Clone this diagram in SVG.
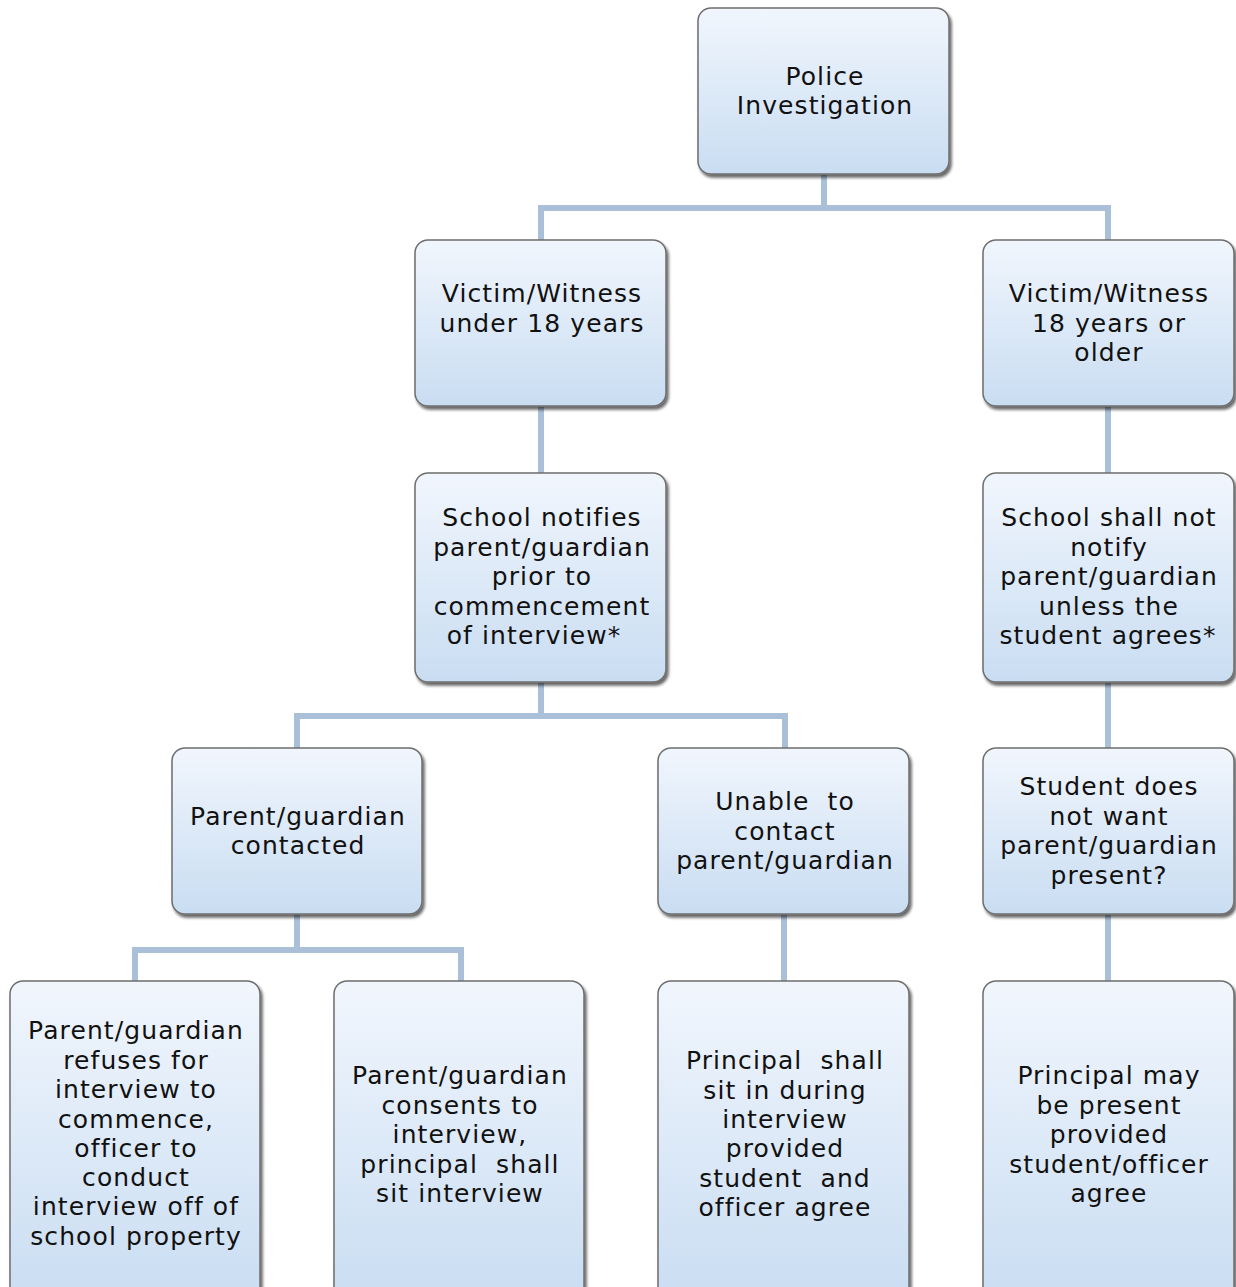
<svg xmlns="http://www.w3.org/2000/svg" width="1236" height="1287" viewBox="0 0 1236 1287">
<defs>
<linearGradient id="g" x1="0" y1="0" x2="0" y2="1">
<stop offset="0" stop-color="#f1f6fd"/>
<stop offset="1" stop-color="#c9ddf2"/>
</linearGradient>
<filter id="sh" x="-10%" y="-10%" width="130%" height="130%">
<feGaussianBlur in="SourceAlpha" stdDeviation="1.5"/>
<feOffset dx="2" dy="3" result="b"/>
<feComponentTransfer><feFuncA type="linear" slope="0.6"/></feComponentTransfer>
<feMerge><feMergeNode/><feMergeNode in="SourceGraphic"/></feMerge>
</filter>
</defs>
<style>
.box{fill:url(#g);stroke:#6e6e6e;stroke-width:1.5;filter:url(#sh)}
.t{font-family:"DejaVu Sans",Verdana,sans-serif;font-size:25px;letter-spacing:1.1px;fill:#111;text-anchor:middle}
.c{fill:none;stroke:#a9c0d8;stroke-width:6}
</style>
<rect width="1236" height="1287" fill="#fff"/>
<g id="connectors">
<path class="c" d="M824 175V208M541 240V208H1108V240"/>
<path class="c" d="M541 407V473"/>
<path class="c" d="M541 683V716M297 748V716H785V748"/>
<path class="c" d="M1108 407V473M1108 683V748M1108 915V981"/>
<path class="c" d="M297 915V950M135 981V950H461V981"/>
<path class="c" d="M784 915V981"/>
</g>
<g id="police"><rect class="box" x="698" y="8" width="251" height="166" rx="13"/>
<text class="t" x="824"><tspan x="825" y="85">Police</tspan><tspan x="825" y="114">Investigation</tspan></text></g>
<g id="under18"><rect class="box" x="415" y="240" width="251" height="166" rx="13"/>
<text class="t"><tspan x="542" y="302">Victim/Witness</tspan><tspan x="542" y="332">under 18 years</tspan></text></g>
<g id="over18"><rect class="box" x="983" y="240" width="251" height="166" rx="13"/>
<text class="t"><tspan x="1109" y="302">Victim/Witness</tspan><tspan x="1109" y="332">18 years or</tspan><tspan x="1109" y="361">older</tspan></text></g>
<g id="notifies"><rect class="box" x="415" y="473" width="251" height="209" rx="13"/>
<text class="t"><tspan x="542" y="526">School notifies</tspan><tspan x="542" y="556">parent/guardian</tspan><tspan x="542" y="585">prior to</tspan><tspan x="542" y="615">commencement</tspan><tspan x="534" y="644">of interview*</tspan></text></g>
<g id="notnotify"><rect class="box" x="983" y="473" width="251" height="209" rx="13"/>
<text class="t"><tspan x="1109" y="526">School shall not</tspan><tspan x="1109" y="556">notify</tspan><tspan x="1109" y="585">parent/guardian</tspan><tspan x="1109" y="615">unless the</tspan><tspan x="1108" y="644">student agrees*</tspan></text></g>
<g id="contacted"><rect class="box" x="172" y="748" width="250" height="166" rx="13"/>
<text class="t"><tspan x="298" y="825">Parent/guardian</tspan><tspan x="298" y="854">contacted</tspan></text></g>
<g id="unable"><rect class="box" x="658" y="748" width="251" height="166" rx="13"/>
<text class="t" xml:space="preserve"><tspan x="785" y="810">Unable  to</tspan><tspan x="785" y="840">contact</tspan><tspan x="785" y="869">parent/guardian</tspan></text></g>
<g id="notwant"><rect class="box" x="983" y="748" width="251" height="166" rx="13"/>
<text class="t"><tspan x="1109" y="795">Student does</tspan><tspan x="1109" y="825">not want</tspan><tspan x="1109" y="854">parent/guardian</tspan><tspan x="1109" y="884">present?</tspan></text></g>
<g id="refuses"><rect class="box" x="10" y="981" width="250" height="320" rx="13"/>
<text class="t"><tspan x="136" y="1039">Parent/guardian</tspan><tspan x="136" y="1069">refuses for</tspan><tspan x="136" y="1098">interview to</tspan><tspan x="136" y="1128">commence,</tspan><tspan x="136" y="1157">officer to</tspan><tspan x="136" y="1186">conduct</tspan><tspan x="136" y="1215">interview off of</tspan><tspan x="136" y="1245">school property</tspan></text></g>
<g id="consents"><rect class="box" x="334" y="981" width="250" height="320" rx="13"/>
<text class="t" xml:space="preserve"><tspan x="460" y="1084">Parent/guardian</tspan><tspan x="460" y="1114">consents to</tspan><tspan x="460" y="1143">interview,</tspan><tspan x="460" y="1173">principal  shall</tspan><tspan x="460" y="1202">sit interview</tspan></text></g>
<g id="sitin"><rect class="box" x="658" y="981" width="251" height="320" rx="13"/>
<text class="t" xml:space="preserve"><tspan x="785" y="1069">Principal  shall</tspan><tspan x="785" y="1099">sit in during</tspan><tspan x="785" y="1128">interview</tspan><tspan x="785" y="1157">provided</tspan><tspan x="785" y="1187">student  and</tspan><tspan x="785" y="1216">officer agree</tspan></text></g>
<g id="maybe"><rect class="box" x="983" y="981" width="251" height="320" rx="13"/>
<text class="t"><tspan x="1109" y="1084">Principal may</tspan><tspan x="1109" y="1114">be present</tspan><tspan x="1109" y="1143">provided</tspan><tspan x="1109" y="1173">student/officer</tspan><tspan x="1109" y="1202">agree</tspan></text></g>
</svg>
